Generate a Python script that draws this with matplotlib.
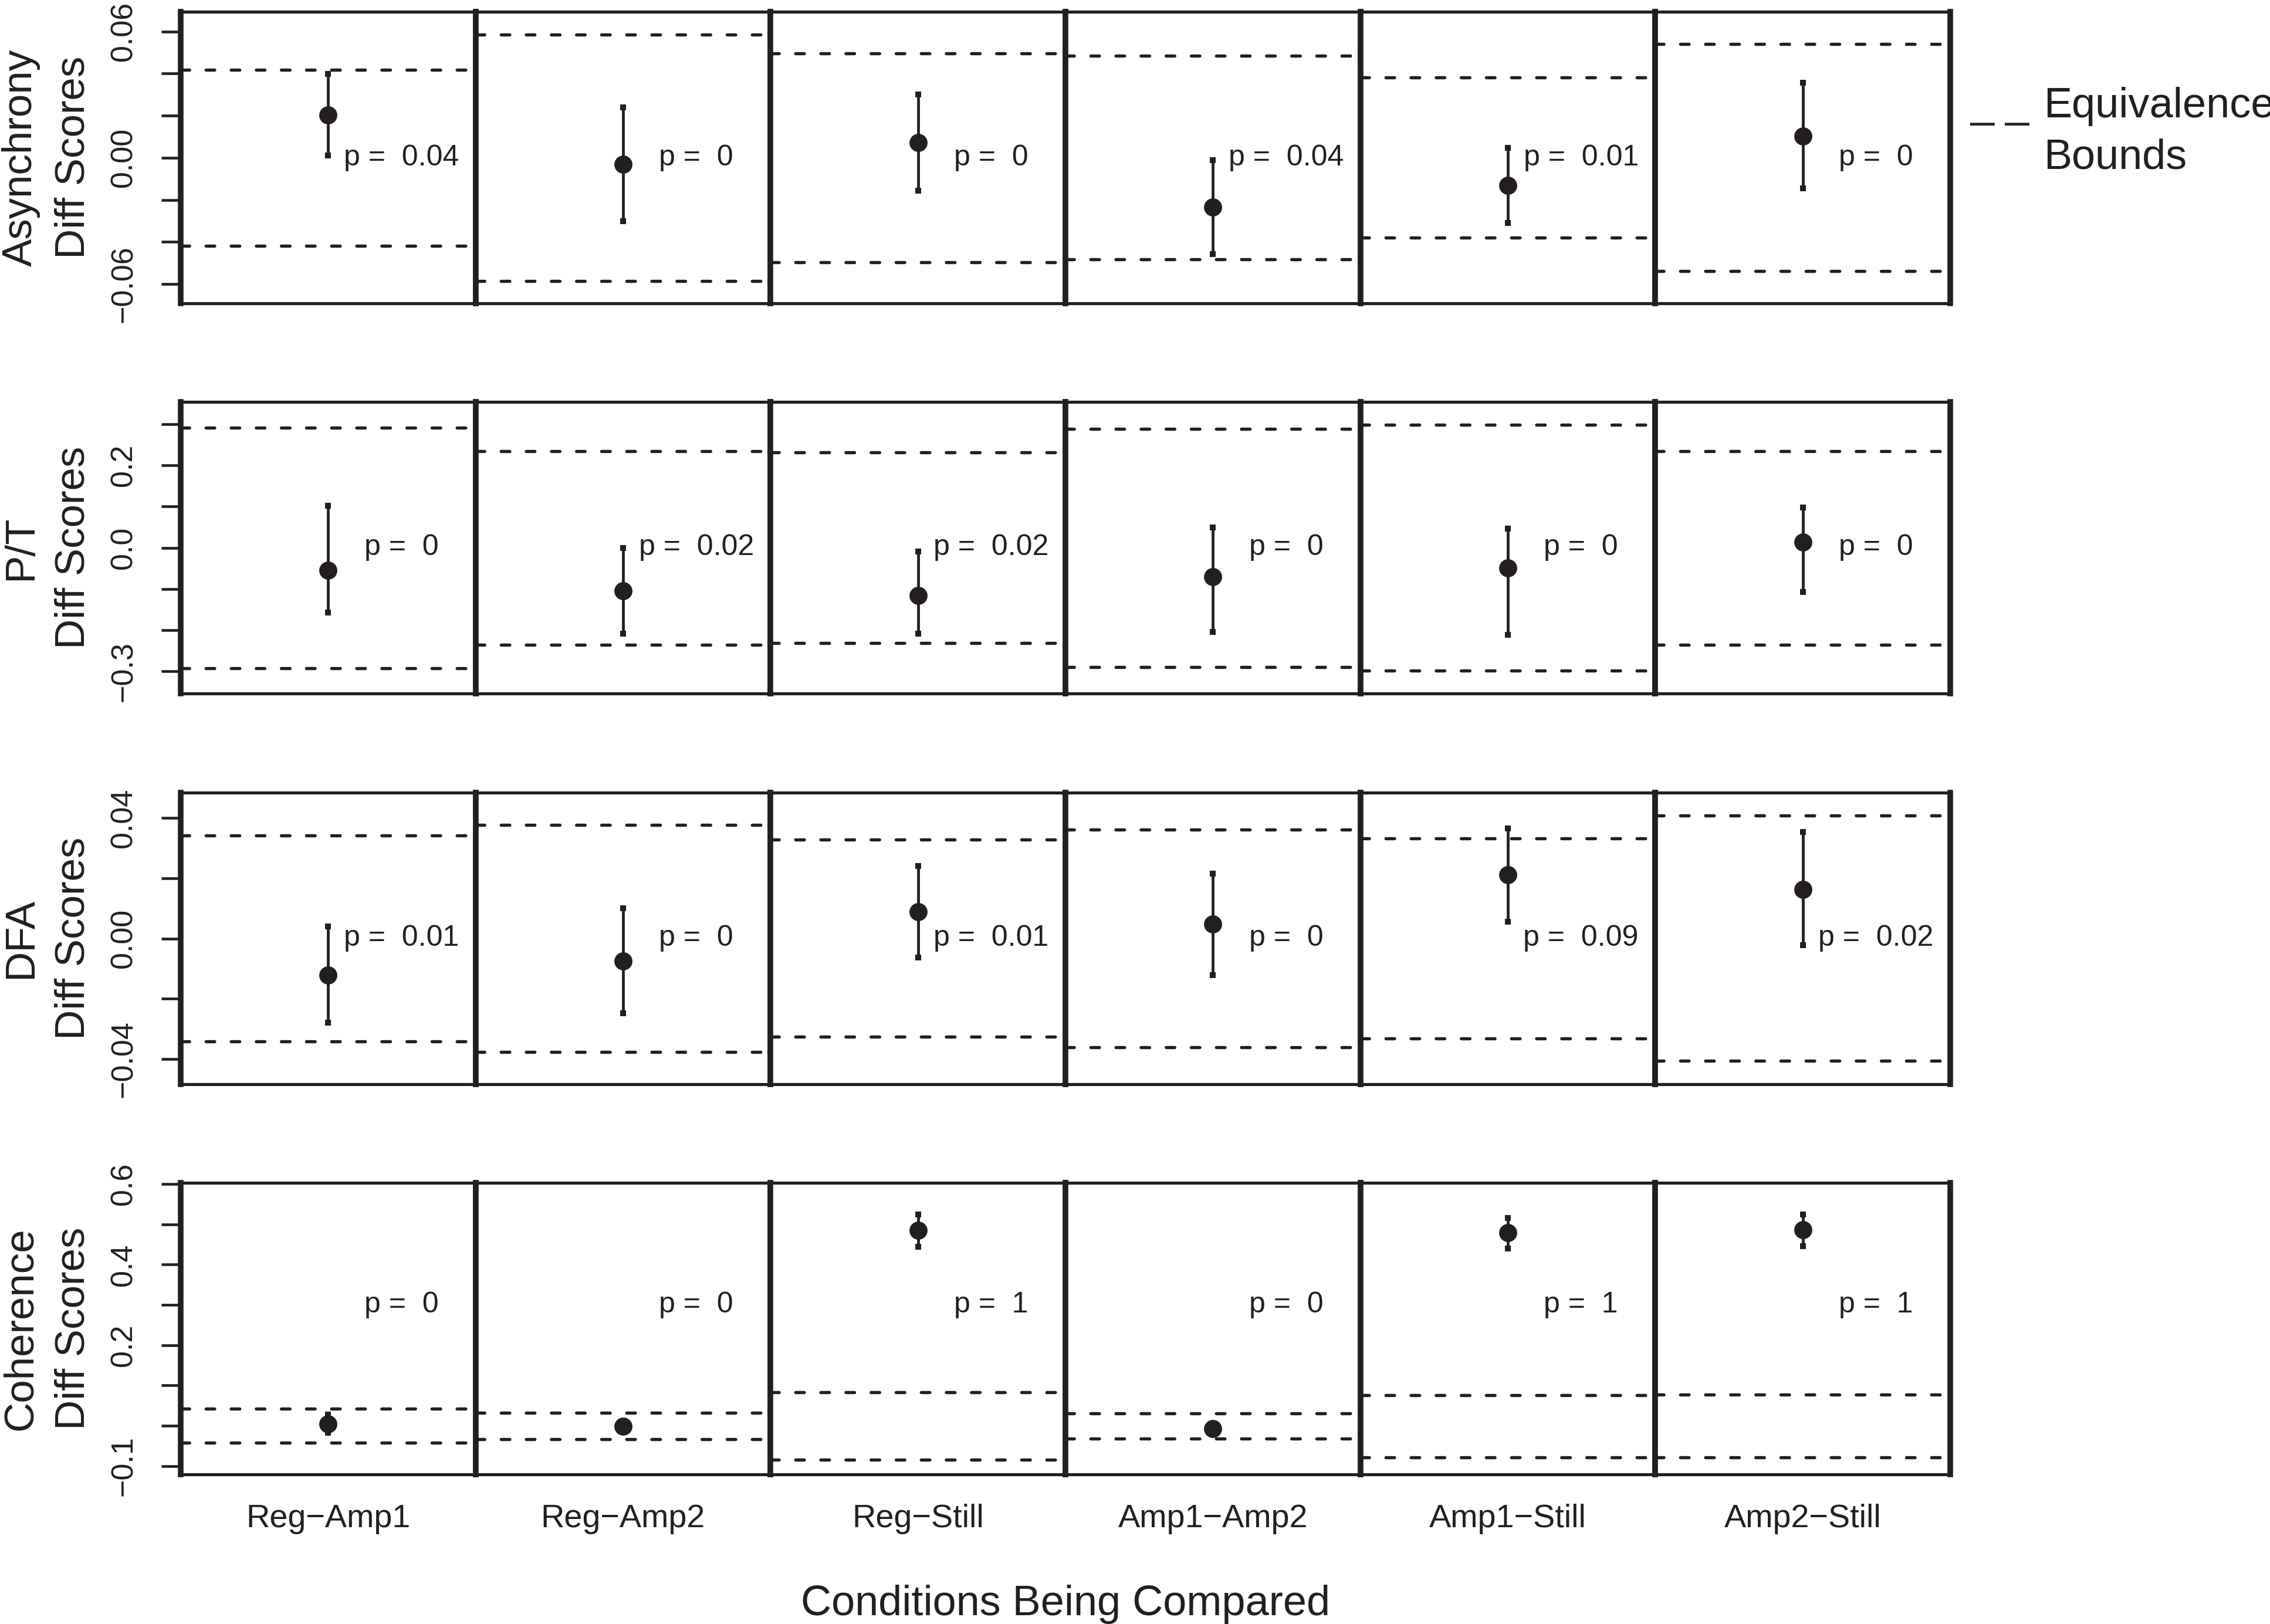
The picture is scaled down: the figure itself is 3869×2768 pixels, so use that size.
import matplotlib
matplotlib.use("Agg")
import matplotlib.pyplot as plt
from matplotlib.transforms import blended_transform_factory

plt.rcParams['font.family'] = ['Liberation Sans', 'DejaVu Sans']

# ---------------- data ----------------
comparisons = ["Reg\u2212Amp1", "Reg\u2212Amp2", "Reg\u2212Still",
               "Amp1\u2212Amp2", "Amp1\u2212Still", "Amp2\u2212Still"]
measures = ["Asynchrony", "P/T", "DFA", "Coherence"]

asyn_est = [0.0203, -0.0030, 0.0073, -0.0235, -0.0132, 0.0102]
asyn_lo = [0.0012, -0.0302, -0.0156, -0.0459, -0.0309, -0.0145]
asyn_hi = [0.0398, 0.0239, 0.0302, -0.0012, 0.0046, 0.0356]
asyn_upper = [0.0419, 0.0586, 0.0496, 0.0486, 0.0383, 0.0542]
asyn_lower = [-0.0419, -0.0586, -0.0496, -0.0483, -0.0380, -0.0540]
asyn_p = ["0.04", "0", "0", "0.04", "0.01", "0"]

pt_est = [-0.0554, -0.1054, -0.1167, -0.0711, -0.0490, 0.0137]
pt_lo = [-0.158, -0.208, -0.209, -0.204, -0.211, -0.108]
pt_hi = [0.102, -0.001, -0.0088, 0.049, 0.0466, 0.098]
pt_upper = [0.2917, 0.2348, 0.2310, 0.2887, 0.2980, 0.2348]
pt_lower = [-0.2926, -0.2358, -0.2320, -0.2900, -0.2990, -0.2358]
pt_p = ["0", "0.02", "0.02", "0", "0", "0"]

dfa_est = [-0.0122, -0.0075, 0.0089, 0.0047, 0.0211, 0.0163]
dfa_lo = [-0.0279, -0.0249, -0.0063, -0.0122, 0.0056, -0.0023]
dfa_hi = [0.0039, 0.0101, 0.0241, 0.0215, 0.0365, 0.0353]
dfa_upper = [0.0342, 0.0377, 0.0328, 0.0361, 0.0332, 0.0408]
dfa_lower = [-0.0341, -0.0376, -0.0327, -0.0361, -0.0332, -0.0406]
dfa_p = ["0.01", "0", "0.01", "0", "0.09", "0.02"]

coh_est = [0.005, -0.0015, 0.485, -0.0075, 0.479, 0.487]
coh_lo = [-0.017, -0.014, 0.444, -0.019, 0.440, 0.446]
coh_hi = [0.027, 0.011, 0.525, 0.004, 0.516, 0.524]
coh_upper = [0.0424, 0.0320, 0.0824, 0.0310, 0.0759, 0.0774]
coh_lower = [-0.0429, -0.0340, -0.0839, -0.0325, -0.0789, -0.0789]
coh_p = ["0", "0", "1", "0", "1", "1"]

y_ticks = [
    [-0.06, -0.04, -0.02, 0.0, 0.02, 0.04, 0.06],
    [-0.3, -0.2, -0.1, 0.0, 0.1, 0.2, 0.3],
    [-0.04, -0.02, 0.0, 0.02, 0.04],
    [-0.1, 0.0, 0.1, 0.2, 0.3, 0.4, 0.5, 0.6],
]
y_ticklabels = [
    ["\u22120.06", "", "", "0.00", "", "", "0.06"],
    ["\u22120.3", "", "", "0.0", "", "0.2", ""],
    ["\u22120.04", "", "0.00", "", "0.04"],
    ["\u22120.1", "", "", "0.2", "", "0.4", "", "0.6"],
]

rows = [
    (asyn_est, asyn_lo, asyn_hi, asyn_upper, asyn_lower, asyn_p),
    (pt_est, pt_lo, pt_hi, pt_upper, pt_lower, pt_p),
    (dfa_est, dfa_lo, dfa_hi, dfa_upper, dfa_lower, dfa_p),
    (coh_est, coh_lo, coh_hi, coh_upper, coh_lower, coh_p),
]

# ---------------- layout / style ----------------
W, H = 3869, 2768
DPI = 300
INK = '#231f20'
ylims = [(-0.0692, 0.0694), (-0.354, 0.354), (-0.0484, 0.0484), (-0.121, 0.603)]
p_label_y = [0.0, 0.0, 0.0, 0.3]
row_tops = [20, 685, 1351, 2016]
row_h = 497
left0 = 308
col_w = (3324 - 308) / 6.0

fig = plt.figure(figsize=(W / DPI, H / DPI), dpi=DPI)

for r, (est, lo, hi, upper, lower, pvals) in enumerate(rows):
    for c in range(6):
        ax = fig.add_axes([(left0 + c * col_w) / W,
                           1 - (row_tops[r] + row_h) / H,
                           col_w / W, row_h / H])
        ax.set_xlim(0, 1)
        ax.set_ylim(*ylims[r])
        for b in (upper[c], lower[c]):
            ax.axhline(b, color=INK, lw=1.3, dashes=(2.7, 5.2),
                       dash_capstyle='round', zorder=2)
        ax.errorbar([0.5], [est[c]],
                    yerr=[[est[c] - lo[c]], [hi[c] - est[c]]],
                    fmt='o', ms=6.4, color=INK, ecolor=INK,
                    elinewidth=1.15, capsize=1.2, capthick=2.4, zorder=3)
        trans = blended_transform_factory(ax.transAxes, ax.transData)
        ax.text(0.748, p_label_y[r], "p =  " + pvals[c], transform=trans,
                ha='center', va='center', fontsize=12, color=INK)
        for side in ('left', 'right'):
            ax.spines[side].set_linewidth(2.3)
            ax.spines[side].set_color(INK)
        for side in ('top', 'bottom'):
            ax.spines[side].set_linewidth(1.25)
            ax.spines[side].set_color(INK)
        ax.set_xticks([])
        if c == 0:
            ax.set_yticks(y_ticks[r])
            ax.set_yticklabels(y_ticklabels[r])
            ax.tick_params(axis='y', direction='out', length=7.9, width=1.1,
                           color=INK, labelcolor=INK, labelsize=12.5,
                           pad=9.5, labelrotation=90)
            for lbl in ax.get_yticklabels():
                lbl.set_va('center')
                lbl.set_ha('right')
        else:
            ax.set_yticks([])
        if r == 3:
            tx = blended_transform_factory(ax.transAxes, fig.transFigure)
            ax.text(0.5, 1 - 2603 / H, comparisons[c], transform=tx,
                    ha='center', va='baseline', fontsize=13.4, color=INK)

    # row label (two lines)
    yc = 1 - (row_tops[r] + row_h / 2) / H
    fig.text(54 / W, yc, measures[r], rotation=90, rotation_mode='anchor',
             ha='center', va='baseline', fontsize=17, color=INK)
    fig.text(143 / W, yc, "Diff Scores", rotation=90, rotation_mode='anchor',
             ha='center', va='baseline', fontsize=17, color=INK)

fig.text(1816 / W, 1 - 2753 / H, "Conditions Being Compared",
         ha='center', va='baseline', fontsize=17.3, color=INK)

# legend-like annotation
fig.text(3358 / W, 1 - 200 / H, "_ _", ha='left', va='baseline',
         fontsize=17.3, color=INK)
fig.text(3483 / W, 1 - 200 / H, "Equivalence", ha='left', va='baseline',
         fontsize=17.3, color=INK)
fig.text(3483 / W, 1 - 288 / H, "Bounds", ha='left', va='baseline',
         fontsize=17.3, color=INK)

fig.savefig("out.png", dpi=DPI, facecolor='white')
